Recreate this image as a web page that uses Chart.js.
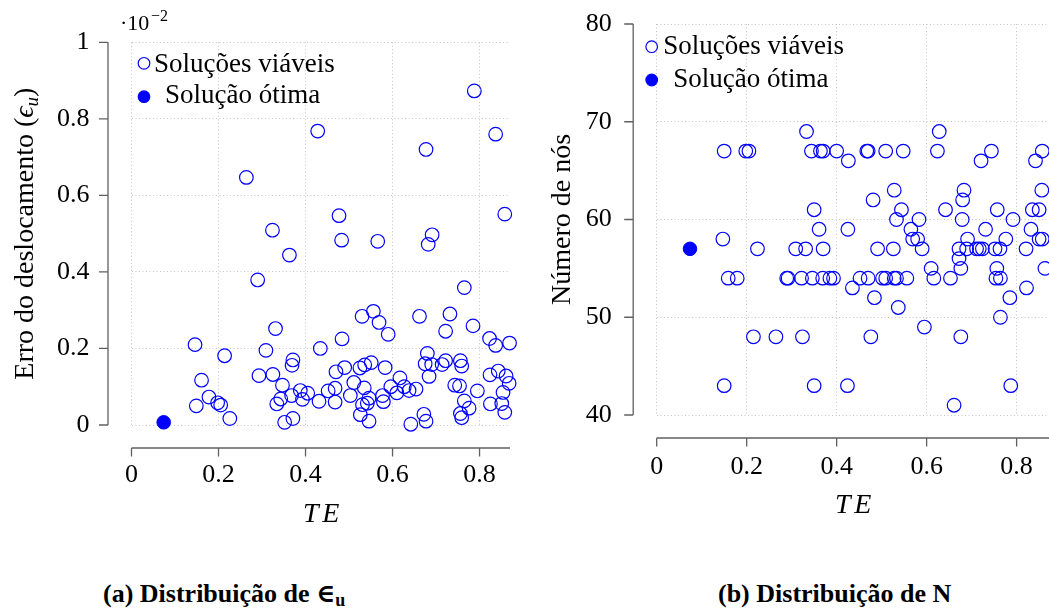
<!DOCTYPE html>
<html>
<head>
<meta charset="utf-8">
<script src="https://cdn.jsdelivr.net/npm/chart.js@4"></script>
<style>
  body { margin: 0; background: #fff; width: 1049px; height: 612px; overflow: hidden; position: relative; font-family: "Liberation Serif", "DejaVu Serif", serif; }
  canvas { position: absolute; top: 0; }
  #graficoA { left: 0; }
  #graficoB { left: 530px; }
  .legenda { position: absolute; top: 581px; font-weight: bold; font-size: 26px; line-height: 26px; white-space: nowrap; color: #000; }
  .legenda span { font-size: 18px; position: relative; top: 4px; }
</style>
</head>
<body>
<canvas id="graficoA" width="530" height="540"></canvas>
<canvas id="graficoB" width="519" height="540"></canvas>
<div class="legenda" style="left:103px">(a) Distribuição de ∈<span>u</span></div>
<div class="legenda" style="left:718px">(b) Distribuição de N</div>
<script>
// (a) erro do deslocamento (x 10^-2) contra TE
const teA = [0.788, 0.428, 0.677, 0.837, 0.264, 0.477, 0.858, 0.324, 0.483, 0.566, 0.691, 0.682, 0.363, 0.290, 0.765,
  0.331, 0.530, 0.556, 0.569, 0.590, 0.662, 0.732, 0.722, 0.785, 0.823, 0.837, 0.869, 0.146, 0.214, 0.309,
  0.434, 0.484, 0.371, 0.369, 0.161, 0.293, 0.325, 0.347, 0.178, 0.198, 0.205, 0.149, 0.226, 0.343, 0.334,
  0.368, 0.388, 0.405, 0.393, 0.431, 0.371, 0.352, 0.470, 0.490, 0.525, 0.536, 0.551, 0.583, 0.511, 0.535,
  0.468, 0.452, 0.503, 0.531, 0.546, 0.542, 0.577, 0.579, 0.468, 0.526, 0.546, 0.596, 0.617, 0.610, 0.627,
  0.654, 0.642, 0.672, 0.677, 0.680, 0.675, 0.690, 0.684, 0.714, 0.722, 0.756, 0.759, 0.743, 0.754, 0.795,
  0.765, 0.776, 0.756, 0.759, 0.824, 0.843, 0.861, 0.868, 0.854, 0.825, 0.851, 0.858, 0.638];
const errA = [0.873, 0.768, 0.720, 0.760, 0.647, 0.547, 0.551, 0.509, 0.483, 0.480, 0.497, 0.472, 0.444, 0.379, 0.359,
  0.252, 0.284, 0.297, 0.268, 0.237, 0.284, 0.290, 0.245, 0.259, 0.226, 0.208, 0.214, 0.210, 0.181, 0.195,
  0.200, 0.225, 0.170, 0.156, 0.117, 0.129, 0.132, 0.104, 0.073, 0.058, 0.052, 0.050, 0.017, 0.068, 0.055,
  0.077, 0.090, 0.083, 0.067, 0.062, 0.017, 0.007, 0.139, 0.150, 0.149, 0.157, 0.163, 0.150, 0.111, 0.097,
  0.096, 0.089, 0.077, 0.053, 0.070, 0.057, 0.077, 0.061, 0.060, 0.027, 0.010, 0.100, 0.123, 0.084, 0.100,
  0.094, 0.002, 0.028, 0.010, 0.187, 0.160, 0.158, 0.127, 0.158, 0.168, 0.168, 0.154, 0.104, 0.102, 0.089,
  0.063, 0.044, 0.030, 0.019, 0.131, 0.141, 0.128, 0.109, 0.085, 0.055, 0.056, 0.033, 0.090];
const teOtimoA = [0.074];
const errOtimoA = [0.007];

// (b) numero de nos contra TE
const teB = [0.333, 0.628,
  0.150, 0.198, 0.205, 0.344, 0.364, 0.370, 0.400, 0.467, 0.470, 0.509, 0.548, 0.624, 0.744, 0.857,
  0.426, 0.721, 0.842,
  0.528, 0.683, 0.856,
  0.481, 0.680,
  0.350, 0.544, 0.642, 0.757, 0.835, 0.850,
  0.533, 0.583, 0.679, 0.792,
  0.361, 0.425, 0.565, 0.731, 0.832,
  0.147, 0.569, 0.580, 0.691, 0.776, 0.850, 0.857,
  0.224, 0.309, 0.331, 0.370, 0.491, 0.526, 0.590, 0.672, 0.689, 0.711, 0.717, 0.724, 0.752, 0.763, 0.821,
  0.672,
  0.610, 0.676, 0.756, 0.863,
  0.159, 0.179, 0.289, 0.292, 0.322, 0.346, 0.369, 0.385, 0.393, 0.452, 0.470, 0.502, 0.509, 0.528, 0.533, 0.556, 0.616, 0.653, 0.754, 0.764,
  0.435, 0.822,
  0.484, 0.785,
  0.537,
  0.764,
  0.595,
  0.215, 0.265, 0.324, 0.476, 0.676,
  0.150, 0.350, 0.424, 0.787,
  0.661];
const nosB = [69, 69,
  67, 67, 67, 67, 67, 67, 67, 67, 67, 67, 67, 67, 67, 67,
  66, 66, 66,
  63, 63, 63,
  62, 62,
  61, 61, 61, 61, 61, 61,
  60, 60, 60, 60,
  59, 59, 59, 59, 59,
  58, 58, 58, 58, 58, 58, 58,
  57, 57, 57, 57, 57, 57, 57, 57, 57, 57, 57, 57, 57, 57, 57,
  56,
  55, 55, 55, 55,
  54, 54, 54, 54, 54, 54, 54, 54, 54, 54, 54, 54, 54, 54, 54, 54, 54, 54, 54, 54,
  53, 53,
  52, 52,
  51,
  50,
  49,
  48, 48, 48, 48, 48,
  43, 43, 43, 43,
  41];
const teOtimoB = [0.074];
const nosOtimoB = [57];

const ticksTE = [0, 0.2, 0.4, 0.6, 0.8];
const ticksErr = [0, 0.2, 0.4, 0.6, 0.8, 1];
const ticksNos = [40, 50, 60, 70, 80];

const azul = '#0000ff';
const serif = '"Liberation Serif", "DejaVu Serif", serif';

// eixos separados da area do grafico, titulos e legenda (estilo pgfplots)
const estiloPgf = {
  id: 'estiloPgf',
  afterDraw(chart, args, o) {
    const { ctx, chartArea: a } = chart;
    const x = chart.scales.x, y = chart.scales.y;
    const ax = a.left - 23.5, ay = a.bottom + 23;
    ctx.save();
    ctx.strokeStyle = '#606060';
    ctx.lineWidth = 1.3;
    ctx.beginPath();
    ctx.moveTo(ax, y.getPixelForValue(y.max));
    ctx.lineTo(ax, y.getPixelForValue(y.min));
    y.ticks.forEach(t => {
      const p = y.getPixelForValue(t.value);
      ctx.moveTo(ax - 9, p);
      ctx.lineTo(ax, p);
    });
    ctx.moveTo(a.left, ay);
    ctx.lineTo(a.right, ay);
    x.ticks.forEach(t => {
      const p = x.getPixelForValue(t.value);
      ctx.moveTo(p, ay);
      ctx.lineTo(p, ay + 8.5);
    });
    ctx.stroke();

    ctx.fillStyle = '#000';
    ctx.textBaseline = 'alphabetic';

    // TE
    ctx.font = 'italic 28px ' + serif;
    ctx.textAlign = 'center';
    const cx = (a.left + a.right) / 2;
    ctx.fillText('T', cx - 10, o.xTituloY);
    ctx.fillText('E', cx + 10, o.xTituloY);

    // multiplicador do eixo y
    if (o.multiplicador) {
      ctx.textAlign = 'left';
      ctx.font = '22px ' + serif;
      ctx.fillText('·10', 120, 30);
      ctx.font = '16px ' + serif;
      ctx.fillText('−2', 151, 21);
    }

    // legenda
    chart.data.datasets.forEach((ds, i) => {
      const it = o.legenda[i];
      ctx.beginPath();
      ctx.arc(it.x, it.y, 5.8, 0, Math.PI * 2);
      if (ds.backgroundColor !== 'transparent') {
        ctx.fillStyle = ds.backgroundColor;
        ctx.fill();
      }
      ctx.strokeStyle = ds.borderColor;
      ctx.lineWidth = 1.2;
      ctx.stroke();
      ctx.fillStyle = '#000';
      ctx.textAlign = 'left';
      ctx.font = '27px ' + serif;
      ctx.fillText(ds.label, it.tx, it.ty);
    });

    // titulo do eixo y (rotacionado, em partes)
    ctx.translate(o.yTituloX, (a.top + a.bottom) / 2);
    ctx.rotate(-Math.PI / 2);
    ctx.textAlign = 'left';
    let w = 0;
    o.yTitulo.forEach(p => {
      ctx.font = p.f + ' ' + serif;
      w += ctx.measureText(p.t).width;
    });
    let px = -w / 2;
    o.yTitulo.forEach(p => {
      ctx.font = p.f + ' ' + serif;
      ctx.fillText(p.t, px, p.dy || 0);
      px += ctx.measureText(p.t).width;
    });
    ctx.restore();
  }
};

// sem folga extra das escalas: a area do grafico fica onde o layout manda
function semFolga(s) {
  s.paddingLeft = 0;
  s.paddingRight = 0;
  s.paddingTop = 0;
  s.paddingBottom = 0;
}

function novoGrafico(id, xs, ys, xsOtimo, ysOtimo, yTicks, cfg) {
  const pontos = (a, b) => a.map((v, i) => ({ x: v, y: b[i] }));
  const fonteTick = { family: serif, size: 26 };
  return new Chart(document.getElementById(id), {
    type: 'scatter',
    data: {
      datasets: [{
        label: 'Soluções viáveis',
        data: pontos(xs, ys),
        borderColor: azul,
        backgroundColor: 'transparent',
        borderWidth: 1.2,
        pointRadius: 6.8,
        clip: false,
        order: 2
      }, {
        label: 'Solução ótima',
        data: pontos(xsOtimo, ysOtimo),
        borderColor: azul,
        backgroundColor: azul,
        borderWidth: 1,
        pointRadius: 6.8,
        clip: false,
        order: 1
      }]
    },
    options: {
      responsive: false,
      animation: false,
      events: [],
      layout: { autoPadding: false, padding: { left: 0, top: cfg.topo, right: cfg.direita, bottom: 0 } },
      plugins: {
        legend: { display: false },
        tooltip: { enabled: false },
        estiloPgf: cfg.pgf
      },
      scales: {
        x: {
          type: 'linear',
          min: 0,
          max: cfg.xMax,
          afterBuildTicks: s => { s.ticks = ticksTE.map(v => ({ value: v })); },
          afterFit: s => { s.height = cfg.xAltura; semFolga(s); },
          grid: { color: '#c4c4c4', lineWidth: 1, drawTicks: false },
          border: { display: false, dash: [1, 2.5] },
          ticks: { padding: cfg.xPad, color: '#000', font: fonteTick, maxRotation: 0, autoSkip: false, callback: v => String(v) }
        },
        y: {
          type: 'linear',
          min: yTicks[0],
          max: yTicks[yTicks.length - 1],
          afterBuildTicks: s => { s.ticks = yTicks.map(v => ({ value: v })); },
          afterFit: s => { s.width = cfg.yLargura; semFolga(s); },
          grid: { color: '#c4c4c4', lineWidth: 1, drawTicks: false },
          border: { display: false, dash: [1, 2.5] },
          ticks: { padding: cfg.yPad, color: '#000', font: fonteTick, autoSkip: false, callback: v => String(v) }
        }
      }
    },
    plugins: [estiloPgf]
  });
}

novoGrafico('graficoA', teA, errA, teOtimoA, errOtimoA, ticksErr, {
  topo: 42.3, direita: 20, xMax: 0.87, xAltura: 115, yLargura: 131.5, xPad: 35, yPad: 42,
  pgf: {
    xTituloY: 521.5, yTituloX: 33, multiplicador: true,
    yTitulo: [
      { t: 'Erro do deslocamento (', f: '28px' },
      { t: 'ϵ', f: 'italic 28px' },
      { t: 'u', f: 'italic 19px', dy: 5 },
      { t: ')', f: '28px' }
    ],
    legenda: [
      { x: 144, y: 63.3, tx: 154, ty: 72 },
      { x: 144, y: 96.7, tx: 165, ty: 103.3 }
    ]
  }
});

novoGrafico('graficoB', teB, nosB, teOtimoB, nosOtimoB, ticksNos, {
  topo: 24, direita: 0, xMax: 0.872, xAltura: 125, yLargura: 126.7, xPad: 37, yPad: 45,
  pgf: {
    xTituloY: 513, yTituloX: 40, multiplicador: false,
    yTitulo: [
      { t: 'Número de nós', f: '28px' }
    ],
    legenda: [
      { x: 121.7, y: 46.7, tx: 133.3, ty: 54.3 },
      { x: 121.7, y: 80, tx: 143.3, ty: 87.3 }
    ]
  }
});
</script>
</body>
</html>
